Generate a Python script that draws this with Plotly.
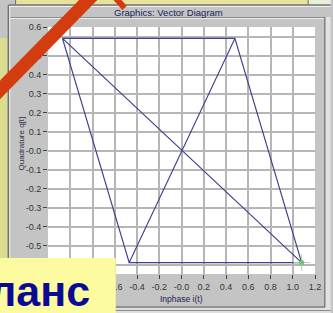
import plotly.graph_objects as go

# ---- data ----
inphase = [-1.07, 0.48, -0.47, 1.08, -1.07, -0.47, 1.08, 0.48]
quadrature = [0.59, 0.59, -0.59, -0.59, 0.59, -0.59, -0.59, 0.59]

x_tick_vals = [-1.2, -1.0, -0.8, -0.6, -0.4, -0.2, 0.0, 0.2, 0.4, 0.6, 0.8, 1.0, 1.2]
x_tick_text = ["", "", "", "-0.6", "-0.4", "-0.2", "-0.0", "0.2", "0.4", "0.6", "0.8", "1.0", "1.2"]
y_tick_vals = [-0.6, -0.5, -0.4, -0.3, -0.2, -0.1, 0.0, 0.1, 0.2, 0.3, 0.4, 0.5, 0.6]
y_tick_text = ["", "-0.5", "-0.4", "-0.3", "-0.2", "-0.1", "-0.0", "0.1", "0.2", "0.3", "0.4", "0.5", ""]
y_top_vals = [0.65]
y_top_text = ["0.6"]

title_text = "Graphics: Vector Diagram"
x_title = "Inphase i(t)"
y_title = "Quadrature q[t]"
overlay_word = "ланс"

# ---- layout geometry ----
W, H = 333, 313
ML, MR, MT, MB = 48, 13, 27, 39
PW, PH = W - ML - MR, H - MT - MB


def px(x):
    return (x - ML) / PW


def py(y):
    return (H - MB - y) / PH


FONT = "Liberation Sans, Arial, sans-serif"
LABEL_COL = "#2b3b30"
GRID_COL = "#b6b6b6"

fig = go.Figure()
fig.add_trace(go.Scatter(
    x=inphase, y=quadrature, mode="lines",
    line=dict(color="#40408a", width=1.2), hoverinfo="skip", showlegend=False))
fig.add_trace(go.Scatter(
    x=[inphase[-2]], y=[quadrature[-2]], mode="markers", yaxis="y2",
    marker=dict(symbol="cross-thin", size=12, line=dict(color="#a6dca6", width=1)),
    hoverinfo="skip", showlegend=False))
fig.add_trace(go.Scatter(
    x=[inphase[-2]], y=[quadrature[-2]], mode="markers", yaxis="y2",
    marker=dict(symbol="circle", size=5, color="#6cc46c"),
    hoverinfo="skip", showlegend=False))


def rect(x0, y0, x1, y1, color):
    return dict(type="rect", xref="paper", yref="paper", layer="above",
                x0=px(x0), x1=px(x1), y0=py(y0), y1=py(y1),
                fillcolor=color, line=dict(width=0))


def line(x0, y0, x1, y1, color, width):
    return dict(type="line", xref="paper", yref="paper", layer="above",
                x0=px(x0), x1=px(x1), y0=py(y0), y1=py(y1),
                line=dict(color=color, width=width))


shapes = [
    # top strip
    rect(15, -2, 313, 4.5, "#e8e29c"),
    rect(313, -2, 336, 4.5, "#e6f0d8"),
    line(15, -2, 15, 4.5, "#707060", 1),
    line(313, -2, 313, 4.5, "#707060", 1),
    line(8, 5, 336, 5, "#505050", 1),
    line(9, 6.5, 336, 6.5, "#f2f2f2", 1),
    line(9, 17.5, 330, 17.5, "#8a8a8a", 1),
    line(9, 18.5, 330, 18.5, "#ececec", 1),
    # left strip
    rect(-2, 38, 6.5, 262, "#dcdc8e"),
    line(7.5, 5, 7.5, 262, "#505050", 1),
    line(9, 6, 9, 262, "#f0f0f0", 1),
    # right border
    line(330, 17, 330, 307, "#606060", 1),
    rect(331, 17, 336, 315, "#e2e2e2"),
    # bottom border
    line(116, 307, 330, 307, "#606060", 1),
    rect(116, 308, 336, 315, "#e0e0e0"),
    line(116, 310.5, 336, 310.5, "#8a8a8a", 1),
    # yellow label box
    rect(-2, 258, 117, 316, "#fdfb9f"),
    # orange arrow
    line(-8, 97, 97, -8, "#d33c0e", 13),
    line(116, -3, 126, 8, "#d33c0e", 6),
]

annotations = [
    dict(text=title_text, xref="paper", yref="paper", x=px(171), y=py(13),
         showarrow=False, xanchor="center", yanchor="middle",
         font=dict(family=FONT, size=9.5, color="#1c1c5c")),
    dict(text=x_title, xref="paper", yref="paper", x=px(184), y=py(299),
         showarrow=False, xanchor="center", yanchor="middle",
         font=dict(family=FONT, size=8.5, color="#222250")),
    dict(text=y_title, xref="paper", yref="paper", x=px(20), y=py(144),
         showarrow=False, xanchor="center", yanchor="middle", textangle=-90,
         font=dict(family=FONT, size=8, color="#303048")),
    dict(text="<b>" + overlay_word + "</b>", xref="paper", yref="paper", x=px(93), y=py(291),
         showarrow=False, xanchor="right", yanchor="middle",
         font=dict(family=FONT, size=43, color="#0a0a94")),
]

axis_common = dict(
    showline=False, zeroline=False, ticks="outside", ticklen=4, tickwidth=1,
    tickcolor="#404040", tickfont=dict(family=FONT, size=9, color=LABEL_COL),
)

fig.update_layout(
    width=W, height=H,
    margin=dict(l=ML, r=MR, t=MT, b=MB, pad=0),
    paper_bgcolor="#c4c4c4", plot_bgcolor="#ffffff",
    showlegend=False,
    xaxis=dict(range=[-1.2, 1.2], tickmode="array", tickvals=x_tick_vals, ticktext=x_tick_text,
               showgrid=True, gridcolor=GRID_COL, gridwidth=2, fixedrange=True, **axis_common),
    yaxis=dict(range=[-0.65, 0.65], tickmode="array", tickvals=y_tick_vals, ticktext=y_tick_text,
               showgrid=True, gridcolor=GRID_COL, gridwidth=2, fixedrange=True, **axis_common),
    yaxis2=dict(range=[-0.65, 0.65], overlaying="y", side="left", anchor="x",
                tickmode="array", tickvals=y_top_vals, ticktext=y_top_text,
                showgrid=False, fixedrange=True, **axis_common),
    shapes=shapes,
    annotations=annotations,
)

fig.write_html(
    "out.html",
    config={"displayModeBar": False, "staticPlot": True},
    post_script="document.body.style.margin='0';document.body.style.overflow='hidden';",
)
